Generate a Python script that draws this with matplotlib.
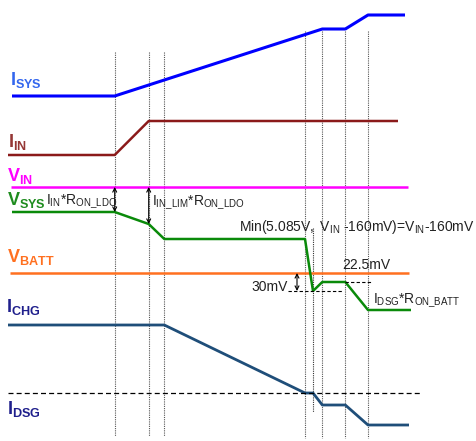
import matplotlib
matplotlib.use("Agg")
import matplotlib.pyplot as plt

plt.rcParams['font.family'] = ['Liberation Sans', 'DejaVu Sans']
plt.rcParams['mathtext.fontset'] = 'custom'
plt.rcParams['mathtext.rm'] = 'Liberation Sans'
plt.rcParams['mathtext.it'] = 'Liberation Sans'
plt.rcParams['mathtext.bf'] = 'Liberation Sans:bold'

# event times (x positions of the dotted markers)
events_a = [114.7, 148.7, 164.3]
events_b = [305, 322.3, 345.3, 368]
event_short = 313

# signal traces (x, y) in screen-like units, y grows downward
isys_x = [12, 114.7, 322.3, 345.3, 368, 405]
isys_y = [96, 96, 29, 29, 15, 15]
iin_x = [8, 114.7, 148.7, 398]
iin_y = [155, 155, 121, 121]
vin_x = [11, 408]
vin_y = [187, 187]
vsys_x = [12, 114.7, 148.7, 164.3, 305, 313, 322.3, 345.3, 368, 411]
vsys_y = [212, 212, 224, 239, 239, 291, 282, 282, 310, 310]
vbatt_x = [10, 409]
vbatt_y = [273, 273]
ichg_x = [8, 164.3, 305, 313, 322.3, 345.3, 368, 409]
ichg_y = [325, 325, 393, 393, 405, 405, 425, 425]
zero_y = 393

fig = plt.figure(figsize=(4.77, 4.41), dpi=100)
ax = fig.add_axes([0, 0, 1, 1])
ax.set_xlim(0, 477)
ax.set_ylim(441, 0)
ax.axis('off')

# dotted event markers
for x in events_a:
    ax.plot([x, x], [52, 436], color='#555555', lw=0.8, ls=(0, (1, 1)))
for x in events_b:
    ax.plot([x, x], [31, 438], color='#555555', lw=0.8, ls=(0, (1, 1)))
ax.plot([event_short, event_short], [228, 412], color='#333333', lw=0.8, ls=(0, (1, 1)))

# traces
ax.plot(isys_x, isys_y, color='#0000FF', lw=2.2, solid_capstyle='butt')
ax.plot(iin_x, iin_y, color='#8B1A1A', lw=1.8, solid_capstyle='butt')
ax.plot(vin_x, vin_y, color='#FF00FF', lw=1.8, solid_capstyle='butt')
ax.plot(vbatt_x, vbatt_y, color='#FF7020', lw=1.8, solid_capstyle='butt')
ax.plot(vsys_x, vsys_y, color='#0A8A0A', lw=1.8, solid_capstyle='butt')
ax.plot(ichg_x, ichg_y, color='#1F4E79', lw=2.0, solid_capstyle='butt')

# zero current reference
ax.plot([8, 420], [zero_y, zero_y], color='black', lw=0.9, ls=(0, (4, 2.5)))
# small dashed guides around the battery dip
ax.plot([288, 342], [291, 291], color='black', lw=0.8, ls=(0, (3, 2)))
ax.plot([345, 372], [282, 282], color='black', lw=0.8, ls=(0, (3, 2)))

# double arrows
arrow = dict(arrowstyle='<->', color='black', lw=0.8, shrinkA=0, shrinkB=0,
             mutation_scale=7)
ax.annotate('', xy=(114.7, 187), xytext=(114.7, 212), arrowprops=arrow)
ax.annotate('', xy=(148.7, 187), xytext=(148.7, 224), arrowprops=arrow)
ax.annotate('', xy=(297, 273), xytext=(297, 291), arrowprops=arrow)

# signal labels
lab = dict(fontsize=13, fontweight='bold', va='baseline', ha='left')
ax.text(10, 85, r'$\mathbf{I_{SYS}}$', color='#3366EE', **lab)
ax.text(8, 147, r'$\mathbf{I_{IN}}$', color='#953735', **lab)
ax.text(7, 181, r'$\mathbf{V_{IN}}$', color='#FF00FF', **lab)
ax.text(7, 205, r'$\mathbf{V_{SYS}}$', color='#1E8C1E', **lab)
ax.text(7, 262, r'$\mathbf{V_{BATT}}$', color='#FF7020', **lab)
ax.text(6, 312, r'$\mathbf{I_{CHG}}$', color='#1F1F8C', **lab)
ax.text(7, 414, r'$\mathbf{I_{DSG}}$', color='#1F1F8C', **lab)

# annotations
note = dict(fontsize=10, color='#222222', va='baseline')
ax.text(46, 205, r'$\mathregular{I_{IN}{*}R_{ON\_LDO}}$', ha='left', **note)
ax.text(152, 206, r'$\mathregular{I_{IN\_LIM}{*}R_{ON\_LDO}}$', ha='left', **note)
ax.text(475, 231,
        r'$\mathregular{Min(5.085V,\ V_{IN}\ \text{-}160mV)\text{=}V_{IN}\text{-}160mV}$',
        ha='right', **note)
ax.text(366, 269, '22.5mV', ha='center', **note)
ax.text(288, 291, '30mV', ha='right', **note)
ax.text(373, 304, r'$\mathregular{I_{DSG}{*}R_{ON\_BATT}}$', ha='left', **note)

fig.savefig('out.png', dpi=100)
